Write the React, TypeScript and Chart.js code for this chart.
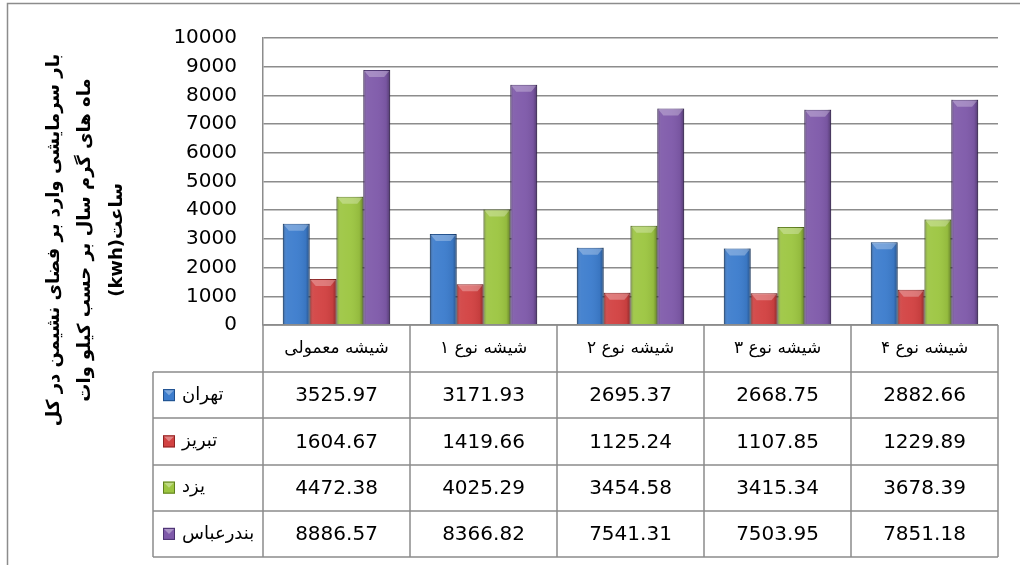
import React, { useEffect, useRef } from "react";
import { Chart, registerables } from "chart.js";

Chart.register(...registerables);

const categories = ["شیشه معمولی", "شیشه نوع ۱", "شیشه نوع ۲", "شیشه نوع ۳", "شیشه نوع ۴"];
const seriesNames = ["تهران", "تبریز", "یزد", "بندرعباس"];
const tehran = [3525.97, 3171.93, 2695.37, 2668.75, 2882.66];
const tabriz = [1604.67, 1419.66, 1125.24, 1107.85, 1229.89];
const yazd = [4472.38, 4025.29, 3454.58, 3415.34, 3678.39];
const bandarAbbas = [8886.57, 8366.82, 7541.31, 7503.95, 7851.18];
const seriesValues = [tehran, tabriz, yazd, bandarAbbas];
const seriesColors = ["#3d7dcd", "#d24242", "#9dc642", "#7f5aaa"];
const seriesBorders = ["#1f4f8c", "#8e2424", "#5f7f1e", "#4b3270"];
const yTitleLines = [
  "بار سرمایشی وارد بر فضای نشیمن در کل",
  "ماه های گرم سال بر حسب کیلو وات",
  "ساعت(kwh)",
];

const FONT = "'DejaVu Sans', sans-serif";
const GRID = "#8c8c8c";

const bevelPlugin = {
  id: "bevel",
  afterDatasetsDraw(chart: any) {
    const ctx = chart.ctx;
    chart.data.datasets.forEach((_: any, di: number) => {
      const meta = chart.getDatasetMeta(di);
      meta.data.forEach((el: any) => {
        const { x, y, base, width } = el.getProps(["x", "y", "base", "width"], true);
        const l = x - width / 2;
        const r = x + width / 2;
        const g = ctx.createLinearGradient(l, 0, r, 0);
        g.addColorStop(0, "rgba(0,0,0,0.30)");
        g.addColorStop(0.15, "rgba(255,255,255,0.06)");
        g.addColorStop(0.5, "rgba(255,255,255,0.03)");
        g.addColorStop(0.85, "rgba(0,0,0,0.06)");
        g.addColorStop(1, "rgba(0,0,0,0.34)");
        ctx.save();
        ctx.fillStyle = g;
        ctx.fillRect(l, y, width, base - y);
        const bh = Math.min(7, (base - y) / 2);
        ctx.beginPath();
        ctx.moveTo(l + 1, y + 1);
        ctx.lineTo(r - 1, y + 1);
        ctx.lineTo(r - 6, y + bh);
        ctx.lineTo(l + 6, y + bh);
        ctx.closePath();
        ctx.fillStyle = "rgba(255,255,255,0.28)";
        ctx.fill();
        ctx.restore();
      });
    });
  },
};

const tablePlugin = {
  id: "dataTable",
  afterDraw(chart: any) {
    const ctx = chart.ctx;
    const area = chart.chartArea;
    const xs = chart.scales.x;
    const n = categories.length;
    const colW = (area.right - area.left) / n;
    const top = area.bottom;
    const bottom = 557;
    const labelLeft = 153;
    const headerH = 47;
    const rowH = (bottom - top - headerH) / seriesNames.length;

    ctx.save();
    ctx.strokeStyle = "#8c8c8c";
    ctx.lineWidth = 1.5;
    ctx.beginPath();
    ctx.moveTo(7.5, chart.height + 5);
    ctx.lineTo(7.5, 3.5);
    ctx.lineTo(chart.width + 5, 3.5);
    ctx.stroke();

    ctx.strokeStyle = GRID;
    ctx.lineWidth = 1.5;
    ctx.beginPath();
    for (let i = 0; i <= n; i++) {
      const x = Math.round(area.left + i * colW);
      ctx.moveTo(x, top);
      ctx.lineTo(x, bottom);
    }
    ctx.moveTo(labelLeft, top + headerH);
    ctx.lineTo(labelLeft, bottom);
    ctx.moveTo(area.left, top);
    ctx.lineTo(area.right, top);
    for (let r = 0; r <= seriesNames.length; r++) {
      const y = Math.round(top + headerH + r * rowH);
      ctx.moveTo(labelLeft, y);
      ctx.lineTo(area.right, y);
    }
    ctx.stroke();

    ctx.fillStyle = "#000";
    ctx.textAlign = "center";
    ctx.textBaseline = "middle";
    ctx.direction = "rtl";
    ctx.font = `17px ${FONT}`;
    categories.forEach((c, i) => {
      const cx = xs.getPixelForValue(i);
      ctx.fillText(c, cx, top + headerH / 2);
    });

    seriesNames.forEach((name, r) => {
      const cy = top + headerH + r * rowH + rowH / 2;
      const kx = 163;
      const ks = 12;
      const ky = cy - ks / 2;
      ctx.fillStyle = seriesColors[r];
      ctx.fillRect(kx, ky, ks, ks);
      ctx.strokeStyle = seriesBorders[r];
      ctx.lineWidth = 1;
      ctx.strokeRect(kx + 0.5, ky + 0.5, ks - 1, ks - 1);
      ctx.beginPath();
      ctx.moveTo(kx + 1, ky + 1);
      ctx.lineTo(kx + ks - 1, ky + 1);
      ctx.lineTo(kx + ks / 2, ky + ks / 2);
      ctx.closePath();
      ctx.fillStyle = "rgba(255,255,255,0.35)";
      ctx.fill();
      ctx.fillStyle = "#000";
      ctx.font = `18px ${FONT}`;
      ctx.direction = "ltr";
      ctx.textAlign = "left";
      ctx.fillText(name, kx + ks + 7, cy);
      ctx.textAlign = "center";
      ctx.font = `20px ${FONT}`;
      seriesValues[r].forEach((v, i) => {
        ctx.fillText(v.toFixed(2), xs.getPixelForValue(i), cy + 1);
      });
    });

    ctx.font = `bold 18px ${FONT}`;
    ctx.direction = "rtl";
    ctx.textAlign = "center";
    ctx.textBaseline = "middle";
    const lineX = [54, 85, 117];
    yTitleLines.forEach((line, i) => {
      ctx.save();
      ctx.translate(lineX[i], 240);
      ctx.rotate(-Math.PI / 2);
      ctx.fillText(line, 0, 0);
      ctx.restore();
    });
    ctx.restore();
  },
};

export default function App() {
  const ref = useRef<HTMLCanvasElement>(null);
  useEffect(() => {
    document.body.style.margin = "0";
    const canvas = ref.current!;
    const chart = new Chart(canvas, {
      type: "bar",
      data: {
        labels: categories,
        datasets: seriesNames.map((name, i) => ({
          label: name,
          data: seriesValues[i],
          backgroundColor: seriesColors[i],
          borderColor: seriesBorders[i],
          borderWidth: 1,
          categoryPercentage: 0.73,
          barPercentage: 1,
        })),
      },
      options: {
        responsive: false,
        animation: false,
        devicePixelRatio: 1,
        layout: { padding: { left: 0, top: 33, right: 22, bottom: 240 } },
        plugins: {
          legend: { display: false },
          tooltip: { enabled: false },
          title: { display: false },
        },
        scales: {
          x: { display: false },
          y: {
            min: 0,
            max: 10000,
            ticks: {
              stepSize: 1000,
              color: "#000",
              padding: 26,
              font: { family: FONT, size: 20 },
              callback: (v: any) => String(v),
            },
            grid: { color: GRID, lineWidth: 1.5, drawTicks: false },
            border: { display: true, color: GRID, width: 1.5 },
            afterFit(scale: any) {
              scale.width = 263;
            },
          },
        },
      },
      plugins: [bevelPlugin, tablePlugin],
    });
    return () => chart.destroy();
  }, []);
  return <canvas ref={ref} width={1020} height={565} style={{ display: "block" }} />;
}
